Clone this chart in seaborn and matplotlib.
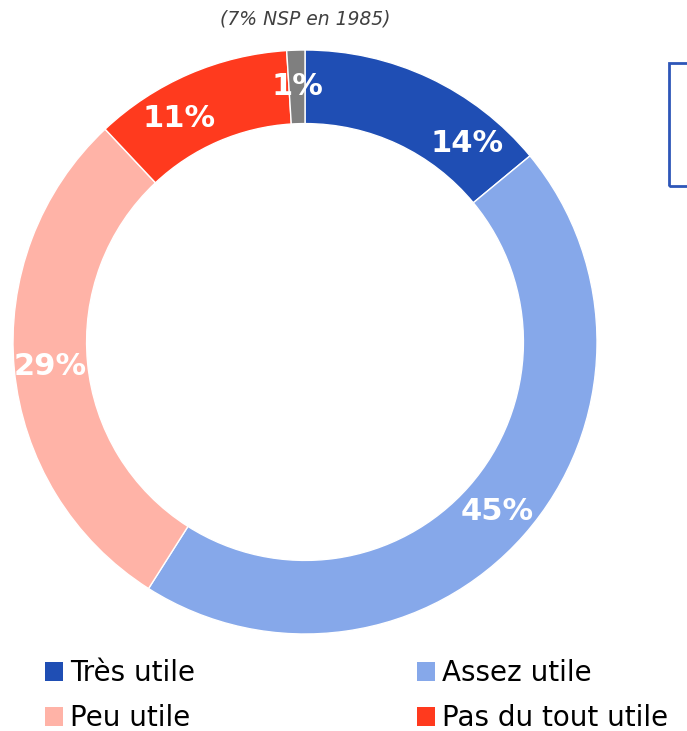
import matplotlib
matplotlib.use("Agg")
import matplotlib.pyplot as plt
import matplotlib.patches as mpatches
import numpy as np
import seaborn as sns

categories = ["Très utile", "Assez utile", "Peu utile", "Pas du tout utile", "NSP"]
values = [14, 45, 29, 11, 1]
labels = ["14%", "45%", "29%", "11%", "1%"]
colors = ["#1F4EB4", "#86A8EA", "#FFB3A7", "#FF3A1E", "#7F7F7F"]
label_angle_shift = [14, 0, 0, -6, 0]  # degrees, clockwise
note = "(7% NSP en 1985)"

sns.set_theme(style="white")
plt.rcParams["font.family"] = ["DejaVu Sans"]
plt.rcParams["text.color"] = "black"
palette = sns.color_palette(colors)

W, H = 687, 731
fig = plt.figure(figsize=(W / 100, H / 100), dpi=100)
fig.patch.set_facecolor("white")

cx, cy, R = 305, 342, 292
ax = fig.add_axes([(cx - R) / W, 1 - (cy + R) / H, 2 * R / W, 2 * R / H])
wedges, _ = ax.pie(values, colors=palette, startangle=90, counterclock=False,
                   radius=1.0, wedgeprops=dict(width=0.252, edgecolor="white", linewidth=1))
ax.set_xlim(-1, 1)
ax.set_ylim(-1, 1)
ax.set_aspect("equal")
ax.axis("off")

r_lab = 0.877
for w, lab, sh in zip(wedges, labels, label_angle_shift):
    mid = (w.theta1 + w.theta2) / 2 - sh
    t = np.deg2rad(mid)
    ax.text(r_lab * np.cos(t), r_lab * np.sin(t), lab, ha="center", va="center",
            color="white", fontsize=22, fontweight="bold")

fig.text(cx / W, 1 - 19 / H, note, ha="center", va="center", fontsize=13.5,
         style="italic", color="#404040")

rect = mpatches.Rectangle((669 / W, 1 - 186 / H), 60 / W, 123 / H, transform=fig.transFigure,
                          fill=False, edgecolor="#2E56B8", linewidth=2)
fig.patches.append(rect)

handles = [mpatches.Patch(facecolor=palette[i], edgecolor="none") for i in [0, 2, 1, 3]]
names = [categories[i] for i in [0, 2, 1, 3]]
leg = fig.legend(handles, names, ncol=2, loc="upper left",
                 bbox_to_anchor=(45 / W, 1 - 659 / H), frameon=False, fontsize=20,
                 handlelength=0.65, handleheight=0.7, handletextpad=0.25,
                 labelspacing=0.62, columnspacing=8.0, borderpad=0, borderaxespad=0)
for t in leg.get_texts():
    t.set_color("black")

fig.savefig("out.png", dpi=100, facecolor="white")
